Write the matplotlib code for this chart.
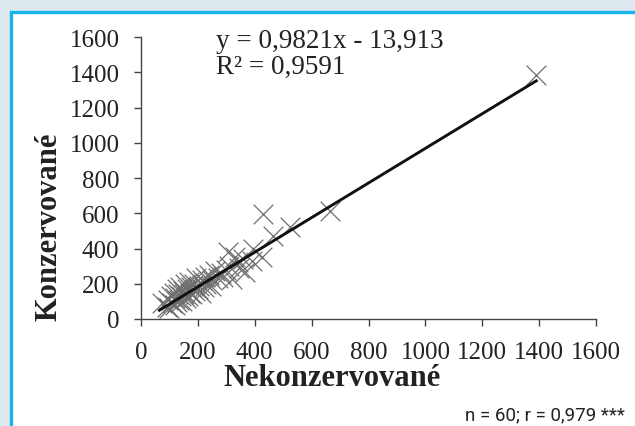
import numpy as np
import matplotlib
matplotlib.use("Agg")
import matplotlib.pyplot as plt
from matplotlib.patches import Rectangle

# data
nekonz = [75, 90, 95, 100, 105, 110, 115, 118, 120, 125,
          128, 130, 135, 138, 140, 145, 148, 150, 155, 158,
          160, 165, 170, 172, 175, 180, 185, 190, 195, 200,
          205, 210, 215, 220, 225, 230, 240, 245, 250, 260,
          270, 280, 290, 300, 310, 320, 330, 340, 345, 360,
          366, 390, 395, 306, 425, 430, 465, 524, 665, 1390]
konz = [90, 70, 110, 60, 130, 90, 150, 80, 120, 170,
        95, 140, 110, 180, 130, 100, 160, 140, 200, 120,
        170, 130, 210, 150, 180, 140, 200, 160, 230, 170,
        190, 150, 220, 180, 240, 200, 250, 190, 220, 270,
        230, 260, 240, 280, 300, 227, 350, 323, 290, 340,
        267, 329, 397, 380, 352, 596, 470, 520, 612, 1385]
slope, intercept = 0.9821, -13.913
ticks = [0, 200, 400, 600, 800, 1000, 1200, 1400, 1600]

serif = "Liberation Serif"
fig = plt.figure(figsize=(6.35, 4.27), dpi=100)
fig.patch.set_facecolor("#dde8ef")

# white panel with cyan frame
fig.patches.append(Rectangle((10.5 / 635, -0.05), 1.1, 1 - 12.5 / 427 + 0.05,
                             transform=fig.transFigure, facecolor="white",
                             edgecolor="#19b2ea", linewidth=2.4, zorder=-5))

ax = fig.add_axes([141 / 635, 1 - 320 / 427, 455 / 635, 282 / 427])
ax.set_facecolor("none")
ax.scatter(nekonz, konz, marker="x", s=200, color="#6e6e6e", linewidths=0.9, zorder=2)

xl = np.array([min(nekonz) - 10, max(nekonz)])
ax.plot(xl, slope * xl + intercept, color="#111111", linewidth=2.1, zorder=3)

ax.set_xlim(0, 1600)
ax.set_ylim(0, 1600)
ax.set_xticks(ticks)
ax.set_yticks(ticks)
ax.set_xticklabels([str(t) for t in ticks], fontfamily=serif, fontsize=18, color="#222222")
ax.set_yticklabels([str(t) for t in ticks], fontfamily=serif, fontsize=18, color="#222222")
ax.tick_params(direction="out", length=5, width=1, color="#444444")
ax.tick_params(axis="x", pad=11)
ax.tick_params(axis="y", pad=10.5)
for s in ["top", "right"]:
    ax.spines[s].set_visible(False)
for s in ["left", "bottom"]:
    ax.spines[s].set_color("#444444")
    ax.spines[s].set_linewidth(1)

ax.set_xlabel("Nekonzervované", fontfamily=serif, fontsize=22, fontweight="bold",
              color="#222222", labelpad=2)
ax.set_ylabel("Konzervované", fontfamily=serif, fontsize=22, fontweight="bold",
              color="#222222", labelpad=4)
ax.xaxis.set_label_coords(0.42, -0.155)
ax.yaxis.get_label().set_y(0.33)

ax.text(262, 1580, "y = 0,9821x - 13,913", fontfamily=serif, fontsize=19.5,
        color="#222222", va="center")
ax.text(262, 1435, "R² = 0,9591", fontfamily=serif, fontsize=19.5,
        color="#222222", va="center")

fig.text(625 / 635, 1 - 415 / 427, "n = 60; r = 0,979 ***", fontfamily="Roboto",
         fontsize=13.5, color="#222222", ha="right", va="center")

fig.savefig("out.png", dpi=100, facecolor=fig.get_facecolor())
